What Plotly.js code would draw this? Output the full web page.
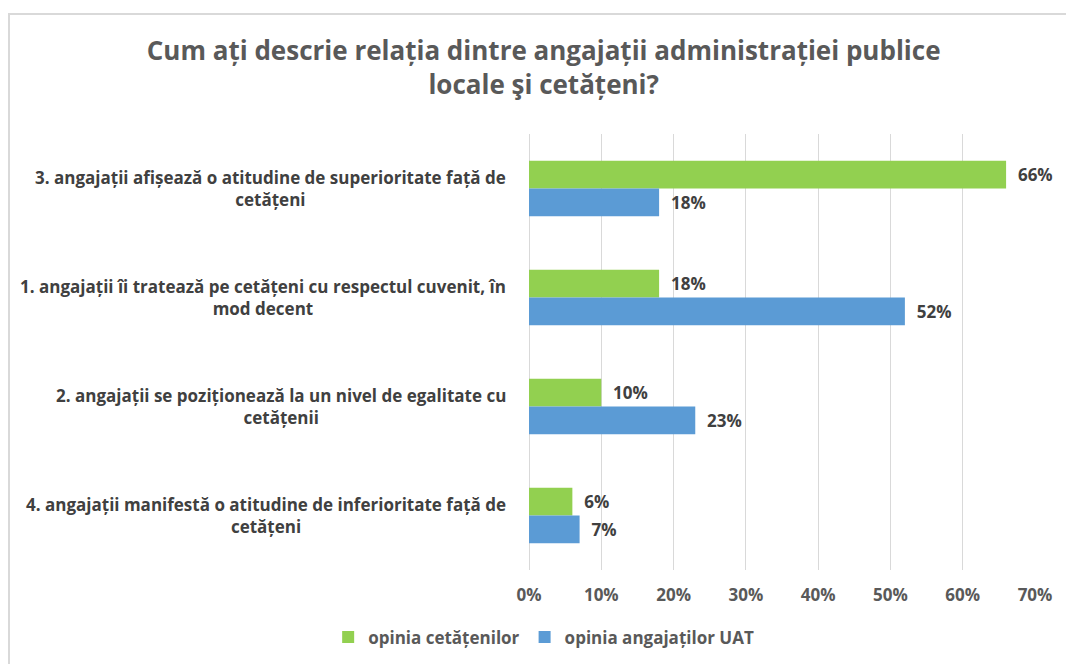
<!DOCTYPE html>
<html>
<head>
<meta charset="utf-8">
<script src="https://cdn.plot.ly/plotly-3.0.1.min.js"></script>
<style>
  html, body { margin: 0; padding: 0; background: #fff; }
  #wrap { position: relative; width: 1066px; height: 664px; }
  #chart { position: absolute; left: 0; top: 0; width: 1066px; height: 664px; }
  #frame { position: absolute; left: 8px; top: 13px; width: 1070px; height: 700px;
           border-left: 2px solid #d9d9d9; border-top: 2px solid #d9d9d9; pointer-events: none; }
</style>
</head>
<body>
<div id="wrap">
  <div id="chart"></div>
  <div id="frame"></div>
</div>
<script>
const titleText = 'Cum ați descrie relația dintre angajații administrației publice<br>locale şi cetățeni?';
const categories = ['cat3', 'cat1', 'cat2', 'cat4'];
const categoryLabels = [
  '3. angajații afișează o atitudine de superioritate față de<br>cetățeni',
  '1. angajații îi tratează pe cetățeni cu respectul cuvenit, în<br>mod decent',
  '2. angajații se poziționează la un nivel de egalitate cu<br>cetățenii',
  '4. angajații manifestă o atitudine de inferioritate față de<br>cetățeni'
];
const seriesNames = ['opinia cetățenilor', 'opinia angajaților UAT'];
const citizens = [0.66, 0.18, 0.10, 0.06];
const employees = [0.18, 0.52, 0.23, 0.07];
const xTickVals = [0, 0.1, 0.2, 0.3, 0.4, 0.5, 0.6, 0.7];
const xTickText = ['0%', '10%', '20%', '30%', '40%', '50%', '60%', '70%'];

const FONT = '"Open Sans", Lato, sans-serif';

function barTrace(name, values, color) {
  return {
    type: 'bar', orientation: 'h', name: name,
    y: categories, x: values,
    marker: { color: color, line: { width: 0 } },
    text: values.map(v => '\u00a0\u00a0' + Math.round(v * 100) + '%'),
    textposition: 'outside',
    cliponaxis: false,
    textfont: { family: FONT, size: 17, color: '#404040', weight: 'bold' },
    hoverinfo: 'x+name'
  };
}

const data = [
  barTrace(seriesNames[0], citizens, '#92d050'),
  barTrace(seriesNames[1], employees, '#5b9bd5')
];

const annotations = categories.map((c, i) => ({
  xref: 'paper', yref: 'y', x: 0, y: c,
  xanchor: 'right', yanchor: 'middle', xshift: -21,
  align: 'center', showarrow: false,
  text: categoryLabels[i],
  font: { family: FONT, size: 17, color: '#404040', weight: 'bold' }
}));

const layout = {
  width: 1066, height: 664,
  paper_bgcolor: '#ffffff', plot_bgcolor: '#ffffff',
  margin: { l: 529, r: 31, t: 134, b: 94 },
  title: {
    text: titleText,
    font: { family: FONT, size: 26, color: '#595959', weight: 'bold' },
    xref: 'container', x: 0.51, xanchor: 'center',
    yref: 'container', y: 0.9095, yanchor: 'top'
  },
  barmode: 'group', bargap: 0.49, bargroupgap: 0,
  xaxis: {
    range: [0, 0.7], tickvals: xTickVals, ticktext: xTickText,
    showgrid: true, gridcolor: '#d9d9d9', gridwidth: 1,
    zeroline: true, zerolinecolor: '#d9d9d9', zerolinewidth: 1,
    showline: false, ticks: '', ticklabelstandoff: 13,
    tickfont: { family: FONT, size: 17, color: '#595959', weight: 'bold' },
    fixedrange: true
  },
  yaxis: {
    type: 'category', autorange: 'reversed',
    showticklabels: false, ticks: '', showgrid: false, zeroline: false, showline: false,
    fixedrange: true
  },
  legend: {
    orientation: 'h', xref: 'container', yref: 'container',
    x: 0.51, xanchor: 'center', y: 0.04, yanchor: 'middle',
    font: { family: FONT, size: 17, color: '#595959', weight: 'bold' },
    itemwidth: 30, tracegroupgap: 0
  },
  annotations: annotations,
  showlegend: true
};

Plotly.newPlot('chart', data, layout, { displayModeBar: false, staticPlot: true });
</script>
</body>
</html>
